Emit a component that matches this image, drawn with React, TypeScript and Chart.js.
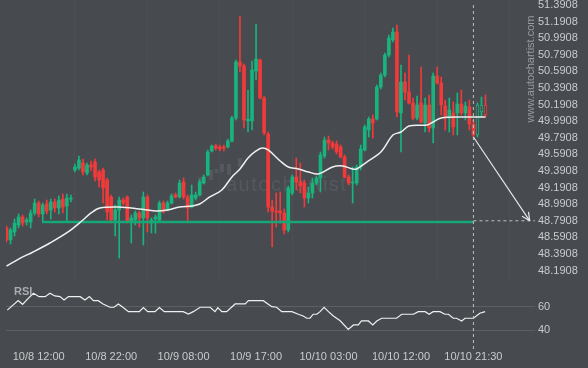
import React, { useEffect, useRef } from 'react';
import { Chart, registerables } from 'chart.js';
Chart.register(...registerables);

// ---- data ----
const opens = [
  48.704, 48.560, 48.656, 48.740, 48.837, 48.776, 48.776, 48.885, 49.005, 48.873, 48.993, 48.921, 49.017, 48.945, 49.053, 48.969, 49.053,
  49.403, 49.427, 49.487, 49.367, 49.463, 49.499, 49.379, 49.403, 49.282, 49.078, 48.800, 48.921, 49.041,
  49.078, 48.776, 48.800, 48.885, 48.825, 49.078, 48.764, 48.812, 48.800, 49.005,
  48.921, 49.005, 49.102, 49.078, 49.258, 49.078, 48.957, 49.065, 49.102, 49.246,
  49.343, 49.632, 49.692, 49.680, 49.680, 49.680, 49.752, 50.029, 50.704, 50.656,
  49.993, 49.993, 50.596, 50.728, 50.270, 49.837, 48.957, 48.909, 48.909, 48.885,
  48.680, 49.126, 49.319, 49.258, 49.246, 49.065, 49.126, 49.246, 49.306, 49.572,
  49.764, 49.728, 49.716, 49.680, 49.560, 49.319, 49.246, 49.246, 49.439, 49.644,
  49.885, 50.017, 50.017, 50.403, 50.547, 50.788, 50.969, 51.065, 50.090, 50.463,
  50.343, 50.210, 50.029, 50.210, 49.969, 50.186, 49.909, 50.535, 50.451, 50.174,
  50.029, 50.090, 50.090, 50.198, 50.090, 50.162, 49.957, 49.825, 50.102, 50.186,
];
const highs = [
  48.728, 48.704, 48.812, 48.873, 48.861, 48.825, 48.921, 49.053, 49.029, 49.005, 49.041, 49.053, 49.053, 49.090, 49.114, 49.114, 49.102,
  49.475, 49.572, 49.535, 49.487, 49.511, 49.535, 49.403, 49.427, 49.306, 49.102, 48.981, 49.078, 49.065,
  49.090, 48.861, 48.909, 48.909, 49.138, 49.102, 48.825, 48.861, 49.029, 49.029,
  49.029, 49.114, 49.126, 49.282, 49.306, 49.102, 49.222, 49.138, 49.282, 49.343,
  49.644, 49.704, 49.716, 49.704, 49.704, 49.776, 50.053, 50.728, 51.258, 50.680,
  50.367, 50.716, 51.162, 50.740, 50.294, 49.861, 49.041, 49.126, 49.138, 48.933,
  49.210, 49.343, 49.547, 49.487, 49.282, 49.198, 49.306, 49.331, 49.620, 49.800,
  49.812, 49.752, 49.752, 49.704, 49.584, 49.343, 49.439, 49.463, 49.704, 49.945,
  50.041, 50.066, 50.427, 50.571, 50.812, 51.029, 51.114, 51.150, 50.668, 50.571,
  50.788, 50.270, 50.294, 50.644, 50.270, 50.306, 50.571, 50.644, 50.523, 50.246,
  50.270, 50.222, 50.331, 50.367, 50.222, 50.246, 50.005, 50.210, 50.282, 50.306,
];
const lows = [
  48.535, 48.511, 48.608, 48.704, 48.728, 48.740, 48.704, 48.861, 48.837, 48.788, 48.873, 48.812, 48.897, 48.873, 48.885, 48.776, 49.017,
  49.379, 49.403, 49.343, 49.343, 49.391, 49.270, 49.198, 49.005, 48.800, 48.764, 48.608, 48.342, 48.981,
  48.764, 48.523, 48.740, 48.716, 48.499, 48.656, 48.644, 48.644, 48.788, 48.885,
  48.909, 48.993, 49.065, 49.065, 49.053, 48.776, 48.945, 49.041, 49.090, 49.234,
  49.331, 49.620, 49.644, 49.632, 49.632, 49.668, 49.740, 50.005, 50.584, 49.909,
  49.861, 49.885, 50.487, 50.258, 49.825, 48.897, 48.475, 48.716, 48.764, 48.632,
  48.656, 49.102, 49.162, 49.126, 48.957, 49.005, 49.065, 49.222, 49.138, 49.547,
  49.644, 49.656, 49.596, 49.547, 49.306, 49.222, 49.005, 49.222, 49.403, 49.632,
  49.800, 49.788, 50.005, 50.379, 50.523, 50.764, 50.945, 50.041, 49.620, 50.246,
  50.198, 50.005, 50.005, 49.969, 49.861, 49.861, 49.728, 50.439, 50.066, 49.885,
  49.861, 49.825, 49.825, 50.066, 50.005, 49.885, 49.800, 49.800, 50.041, 50.041,
];
const closes = [
  48.560, 48.680, 48.764, 48.837, 48.764, 48.800, 48.885, 49.005, 48.873, 48.981, 48.909, 49.017, 48.945, 49.041, 48.957, 49.065, 49.065,
  49.439, 49.523, 49.379, 49.463, 49.439, 49.319, 49.282, 49.186, 48.897, 48.800, 48.921, 49.041, 49.005,
  48.776, 48.825, 48.885, 48.825, 49.078, 48.825, 48.800, 48.837, 49.005, 48.897,
  49.005, 49.090, 49.078, 49.246, 49.078, 48.945, 49.102, 49.102, 49.258, 49.319,
  49.620, 49.692, 49.668, 49.656, 49.668, 49.752, 50.029, 50.704, 50.656, 50.005,
  50.017, 50.608, 50.740, 50.270, 49.849, 48.957, 48.909, 48.897, 48.885, 48.680,
  49.186, 49.319, 49.258, 49.210, 49.065, 49.126, 49.246, 49.306, 49.584, 49.764,
  49.728, 49.680, 49.620, 49.560, 49.319, 49.246, 49.258, 49.439, 49.656, 49.921,
  50.017, 49.969, 50.403, 50.547, 50.788, 50.993, 51.065, 50.102, 50.463, 50.343,
  50.210, 50.029, 50.186, 49.981, 50.186, 49.909, 50.535, 50.451, 50.186, 50.029,
  50.126, 49.921, 50.198, 50.090, 50.174, 49.957, 49.825, 50.186, 50.186, 50.066,
];

const maIdx = [0, 3, 6.6, 10.8, 15.3, 19, 21, 23.2, 28, 33, 37, 40, 43, 46, 48, 50.5, 53.5, 56, 58, 60, 62, 63.5, 65, 68, 70, 72.5, 75, 77.5, 81, 83.5, 86, 87, 89.5, 93, 96, 98, 100, 104.5, 106, 108, 113, 119];
const maVals = [48.246, 48.330, 48.415, 48.523, 48.656, 48.800, 48.885, 48.945, 48.957, 48.933, 48.909, 48.921, 48.957, 48.969, 48.993, 49.078, 49.162, 49.319, 49.415, 49.547, 49.632, 49.668, 49.644, 49.511, 49.439, 49.415, 49.379, 49.355, 49.439, 49.451, 49.415, 49.415, 49.499, 49.620, 49.825, 49.861, 49.933, 49.945, 49.981, 50.029, 50.041, 50.041];

const rsiIdx = [0.2, 2.9, 4.0, 5.4, 6.7, 8.1, 9.6, 10.8, 12.0, 13.3, 14.3, 15.4, 18.3, 19.5, 20.6, 21.6, 22.8, 24.0, 25.7, 26.7, 27.8, 28.9, 30.3, 33.0, 34.0, 35.1, 36.9, 38.0, 39.2, 43.9, 45.2, 46.4, 48.1, 50.6, 51.8, 52.5, 53.5, 54.7, 56.8, 59.3, 60.1, 63.8, 65.9, 67.1, 68.4, 70.9, 72.5, 73.7, 74.6, 75.4, 76.2, 77.1, 77.9, 78.9, 80.0, 81.2, 82.9, 84.9, 86.2, 87.4, 88.2, 89.9, 91.0, 92.0, 93.2, 96.9, 98.2, 101.1, 102.3, 104.0, 105.0, 106.0, 107.7, 108.9, 109.8, 111.0, 111.8, 113.1, 113.9, 116.0, 117.6, 118.9];
const rsiVals = [57.1, 65.1, 62, 67.1, 71.4, 68.5, 68.5, 71.4, 69.1, 68.5, 65.7, 68.5, 68.5, 65.7, 68.5, 65.1, 65.1, 62.3, 59.5, 59.5, 62.3, 59.5, 55.8, 55.8, 59.2, 55.8, 55.8, 59.2, 55.8, 55.8, 53.8, 55.8, 59.5, 59.5, 55.8, 59.2, 55.8, 55.8, 62.3, 62.3, 65.1, 65.1, 60, 59.5, 55.8, 55.8, 53.6, 52.1, 50.2, 50.2, 53.6, 53.6, 55.8, 59.5, 55.8, 52.1, 48.1, 40.8, 44.5, 44.5, 47.9, 47.9, 44.5, 47.9, 50.2, 50.2, 53.6, 53.6, 55.8, 55.8, 53.6, 55.8, 55.8, 53.6, 53.6, 50.2, 50.2, 47.9, 50.2, 50.2, 54.4, 55.8];

const xTickIdx = [8, 26, 44, 62, 80, 98, 116];
const xTickLabels = ['10/8 12:00', '10/8 22:00', '10/9 08:00', '10/9 17:00', '10/10 03:00', '10/10 12:00', '10/10 21:30'];
const yTickVals = [48.1908, 48.3908, 48.5908, 48.7908, 48.9908, 49.1908, 49.3908, 49.5908, 49.7908, 49.9908, 50.1908, 50.3908, 50.5908, 50.7908, 50.9908, 51.1908, 51.3908];
const rsiTickVals = [40, 60];

const supportLevel = 48.776;
const supportStartIdx = 8.8;
const patternEndIdx = 116;
const hollowFromIdx = 117;
const arrowStart = 49.80;
const targetLevel = 48.7908;
const arrowEndIdx = 130;

// ---- styling ----
const BG = '#474a4f';
const UP = '#19b37d';
const DOWN = '#f23a3a';
const TEXT = '#c9cbcd';
const FONT = "'Liberation Sans', Arial, sans-serif";
const X_MIN = -0.124;
const X_MAX = 131.3;
const Y_MIN = 48.0775;
const Y_MAX = 51.451;
const R_MIN = 23.3;
const R_MAX = 82.6;

export default function App() {
  const mainRef = useRef<HTMLCanvasElement>(null);
  const rsiRef = useRef<HTMLCanvasElement>(null);

  useEffect(() => {
    const idx = opens.map((_, i) => i);
    const col = idx.map((i) => (closes[i] >= opens[i] ? UP : DOWN));
    const hollow = idx.map((i) => i >= hollowFromIdx);

    const xBase: any = {
      type: 'linear',
      min: X_MIN,
      max: X_MAX,
      bounds: 'data',
      offset: false,
      afterBuildTicks: (s: any) => {
        s.ticks = xTickIdx.map((v) => ({ value: v }));
      },
    };

    const watermark = {
      id: 'watermark',
      beforeDatasetsDraw(chart: any) {
        const ctx = chart.ctx;
        ctx.save();
        ctx.fillStyle = '#55595e';
        const bars = [[198, 177, 4, 6], [209, 170, 4, 10], [215, 169, 3, 4], [220, 164, 4, 8], [227, 164, 4, 11], [238, 158, 4, 9]];
        bars.forEach((b) => ctx.fillRect(b[0], b[1], b[2], b[3]));
        ctx.font = `20px ${FONT}`;
        ctx.letterSpacing = '1.5px';
        ctx.textBaseline = 'alphabetic';
        ctx.fillText('autochartist', 226, 191);
        ctx.restore();
      },
      afterDraw(chart: any) {
        const ctx = chart.ctx;
        ctx.save();
        ctx.translate(531, 69);
        ctx.rotate(-Math.PI / 2);
        ctx.fillStyle = '#989b9e';
        ctx.font = `11px ${FONT}`;
        ctx.textAlign = 'center';
        ctx.textBaseline = 'middle';
        ctx.fillText('www.autochartist.com', 0, 0);
        ctx.restore();
      },
    };

    const arrowHead = {
      id: 'arrowHead',
      afterDatasetsDraw(chart: any) {
        const meta = chart.getDatasetMeta(0);
        const [p0, p1] = meta.data;
        if (!p0 || !p1) return;
        const ang = Math.atan2(p1.y - p0.y, p1.x - p0.x);
        const ctx = chart.ctx;
        ctx.save();
        ctx.strokeStyle = '#e6e6e6';
        ctx.lineWidth = 1.2;
        ctx.beginPath();
        [-0.45, 0.45].forEach((d) => {
          ctx.moveTo(p1.x, p1.y);
          ctx.lineTo(p1.x - 9 * Math.cos(ang + d), p1.y - 9 * Math.sin(ang + d));
        });
        ctx.stroke();
        ctx.restore();
      },
    };

    const main = new Chart(mainRef.current as HTMLCanvasElement, {
      type: 'bar',
      data: {
        datasets: [
          {
            type: 'line', label: 'arrow',
            data: [{ x: patternEndIdx, y: arrowStart }, { x: arrowEndIdx, y: targetLevel }],
            borderColor: '#e6e6e6', borderWidth: 1.2, pointRadius: 0, order: 0,
          },
          {
            type: 'line', label: 'vline',
            data: [{ x: patternEndIdx, y: yTickVals[yTickVals.length - 1] }, { x: patternEndIdx, y: Y_MIN }],
            borderColor: '#bfc1c3', borderWidth: 1, borderDash: [3, 3], pointRadius: 0, order: 1,
          },
          {
            type: 'line', label: 'target',
            data: [{ x: patternEndIdx, y: targetLevel }, { x: X_MAX, y: targetLevel }],
            borderColor: '#bfc1c3', borderWidth: 1, borderDash: [3, 3], pointRadius: 0, order: 1,
          },
          {
            type: 'line', label: 'ma',
            data: maIdx.map((x, k) => ({ x, y: maVals[k] })),
            borderColor: '#f0f0f0', borderWidth: 1.5, pointRadius: 0, tension: 0.35, order: 2,
          },
          {
            type: 'line', label: 'support',
            data: [{ x: supportStartIdx, y: supportLevel }, { x: patternEndIdx, y: supportLevel }],
            borderColor: '#17a877', borderWidth: 2.5, pointRadius: 0, order: 3,
          },
          {
            type: 'bar', label: 'body',
            data: idx.map((i) => ({ x: i, y: [opens[i], closes[i]] })) as any,
            backgroundColor: idx.map((i) => (hollow[i] ? BG : col[i])),
            borderColor: col,
            borderWidth: idx.map((i) => (hollow[i] ? 1 : 0)),
            borderSkipped: false,
            barThickness: 3,
            minBarLength: 1,
            grouped: false,
            order: 4,
          } as any,
          {
            type: 'bar', label: 'wick',
            data: idx.map((i) => ({ x: i, y: [lows[i], highs[i]] })) as any,
            backgroundColor: col,
            borderWidth: 0,
            barThickness: 1,
            grouped: false,
            order: 5,
          } as any,
        ],
      },
      options: {
        animation: false,
        responsive: false,
        events: [],
        layout: { padding: { left: 6, right: 0, top: 0, bottom: 0 } },
        plugins: { legend: { display: false }, tooltip: { enabled: false } },
        scales: {
          x: {
            ...xBase,
            ticks: { display: false },
            grid: { color: 'rgba(255,255,255,0.03)', drawTicks: false },
            border: { display: false },
            afterFit: (s: any) => { s.height = 0; s.paddingLeft = 0; s.paddingRight = 0; },
          },
          y: {
            type: 'linear',
            position: 'right',
            min: Y_MIN,
            max: Y_MAX,
            bounds: 'data',
            afterBuildTicks: (s: any) => { s.ticks = yTickVals.map((v) => ({ value: v })); },
            ticks: {
              autoSkip: false, padding: 3, color: TEXT, font: { family: FONT, size: 11 },
              callback: (v: any) => Number(v).toFixed(4),
            },
            grid: { display: false, drawTicks: false },
            border: { display: false },
            afterFit: (s: any) => { s.width = 53; s.paddingTop = 0; s.paddingBottom = 0; },
          },
        },
      } as any,
      plugins: [watermark, arrowHead],
    });

    const rsi = new Chart(rsiRef.current as HTMLCanvasElement, {
      type: 'line',
      data: {
        datasets: [
          {
            label: 'vline',
            data: [{ x: patternEndIdx, y: R_MAX }, { x: patternEndIdx, y: R_MIN }],
            borderColor: '#bfc1c3', borderWidth: 1, borderDash: [3, 3], pointRadius: 0,
          },
          {
            label: 'RSI',
            data: rsiIdx.map((x, k) => ({ x, y: rsiVals[k] })),
            borderColor: '#f0f0f0', borderWidth: 1.2, pointRadius: 0, tension: 0,
          },
        ],
      },
      options: {
        animation: false,
        responsive: false,
        events: [],
        layout: { padding: { left: 6, right: 0, top: 0, bottom: 0 } },
        plugins: { legend: { display: false }, tooltip: { enabled: false } },
        scales: {
          x: {
            ...xBase,
            ticks: {
              autoSkip: false, maxRotation: 0, padding: 0.5, color: TEXT, font: { family: FONT, size: 11 },
              callback: (_v: any, i: number) => xTickLabels[i],
            },
            grid: { display: false, drawTicks: false },
            border: { display: false },
            afterFit: (s: any) => { s.height = 18; s.paddingLeft = 0; s.paddingRight = 0; },
          },
          y: {
            type: 'linear',
            position: 'right',
            min: R_MIN,
            max: R_MAX,
            bounds: 'data',
            afterBuildTicks: (s: any) => { s.ticks = rsiTickVals.map((v) => ({ value: v })); },
            ticks: {
              autoSkip: false, padding: 3, color: TEXT, font: { family: FONT, size: 11 },
              callback: (v: any) => String(v),
            },
            grid: { color: '#5c6064', drawTicks: false },
            border: { display: false },
            afterFit: (s: any) => { s.width = 53; s.paddingTop = 0; s.paddingBottom = 0; },
          },
        },
      } as any,
    });

    return () => {
      main.destroy();
      rsi.destroy();
    };
  }, []);

  return (
    <div style={{ position: 'fixed', left: 0, top: 0, width: 588, height: 368, background: BG, overflow: 'hidden' }}>
      <canvas ref={mainRef} width={588} height={280} style={{ position: 'absolute', left: 0, top: 0, width: 588, height: 280 }} />
      <canvas ref={rsiRef} width={588} height={88} style={{ position: 'absolute', left: 0, top: 280, width: 588, height: 88 }} />
      <div style={{ position: 'absolute', left: 14, top: 285, color: '#a9acaf', font: `bold 11px ${FONT}` }}>RSI</div>
    </div>
  );
}
